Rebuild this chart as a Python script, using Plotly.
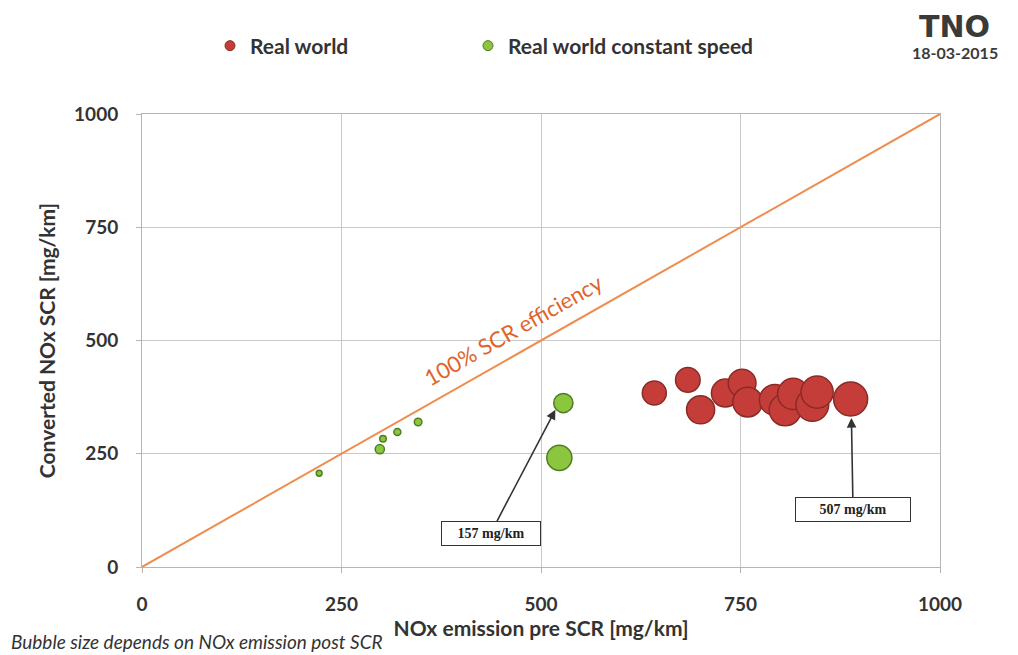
import plotly.graph_objects as go

# Real world (red) : NOx pre SCR vs converted NOx
rw_pre = [642, 684, 700, 731, 752, 759, 793, 806, 816, 840, 846, 888]
rw_conv = [384, 413, 347, 384, 406, 364, 369, 347, 382, 358, 386, 371]

# Real world constant speed (green)
cs_pre = [222, 298, 302, 320, 346, 528, 523]
cs_conv = [207, 260, 283, 298, 320, 362, 241]

diag = [0, 1000]
ticks = [0, 250, 500, 750, 1000]

# bubble size = NOx emission post SCR = pre - converted
rw_post = [p - c for p, c in zip(rw_pre, rw_conv)]
cs_post = [p - c for p, c in zip(cs_pre, cs_conv)]

max_d = 34
sizeref = 2 * max(rw_post + cs_post) / max_d ** 2

FONT = "Lato"
DARK = "#333333"
RED, RED_LINE = "#c53d39", "#8a2b27"
GREEN, GREEN_LINE = "#8cc63e", "#4f7d22"

fig = go.Figure()
fig.add_trace(go.Scatter(x=diag, y=diag, mode="lines",
                         line=dict(color="#ef8c4f", width=2),
                         showlegend=False, hoverinfo="skip"))
fig.add_trace(go.Scatter(x=rw_pre, y=rw_conv, mode="markers", name="Real world",
                         showlegend=False,
                         marker=dict(size=rw_post, sizemode="area", sizeref=sizeref,
                                     color=RED, opacity=1,
                                     line=dict(color=RED_LINE, width=1.5))))
fig.add_trace(go.Scatter(x=cs_pre, y=cs_conv, mode="markers", name="Real world constant speed",
                         showlegend=False,
                         marker=dict(size=cs_post, sizemode="area", sizeref=sizeref,
                                     color=GREEN, opacity=1,
                                     line=dict(color=GREEN_LINE, width=1.5))))
# legend entries (one legend each, so they can be placed like the original)
fig.add_trace(go.Scatter(x=[None], y=[None], mode="markers", name="Real world", legend="legend",
                         marker=dict(size=10, color=RED, line=dict(color=RED_LINE, width=1))))
fig.add_trace(go.Scatter(x=[None], y=[None], mode="markers", name="Real world constant speed",
                         legend="legend2",
                         marker=dict(size=10, color=GREEN, line=dict(color=GREEN_LINE, width=1))))

axis_common = dict(range=[0, 1000], tickvals=ticks, showgrid=True, gridcolor="#c9c9c9",
                   gridwidth=1, zeroline=False, showline=True, linecolor="#b5b5b5",
                   linewidth=1, mirror=True, ticks="outside", ticklen=5, tickcolor="#b5b5b5",
                   automargin=False,
                   tickfont=dict(family=FONT, size=19, color=DARK, weight="bold"))

fig.update_xaxes(**axis_common, ticklabelstandoff=15,
                 title=dict(text="NOx emission pre SCR [mg/km]", standoff=6,
                            font=dict(family=FONT, size=21, color=DARK, weight="bold")))
fig.update_yaxes(**axis_common, ticklabelstandoff=14,
                 title=dict(text="Converted NOx SCR [mg/km]", standoff=12,
                            font=dict(family=FONT, size=21, color=DARK, weight="bold")))

# page offset (browser body margin)
OFF = 8
W, H = 1018, 655
L, T = 142 - OFF, 114 - OFF
pw, ph = 798, 453
R, B = W - L - pw, H - T - ph


def px(x):
    return (x - OFF - L) / pw


def py(y):
    return (H - B - (y - OFF)) / ph


annotations = [
    dict(x=466, y=524, xref="x", yref="y", text="100% SCR efficiency", showarrow=False,
         textangle=-29.6, font=dict(family=FONT, size=22, color="#e0642a")),
    dict(x=518, y=347, xref="x", yref="y", ax=437, ay=75, axref="x", ayref="y",
         text="<b>157 mg/km</b>", showarrow=True, arrowhead=2, arrowsize=1.2, arrowwidth=1.6,
         arrowcolor="#333333", bordercolor="#333333", borderwidth=1, borderpad=4,
         bgcolor="white", font=dict(family="Liberation Serif", size=14, color="#222222"),
         width=90),
    dict(x=889, y=329, xref="x", yref="y", ax=891, ay=128, axref="x", ayref="y",
         text="<b>507 mg/km</b>", showarrow=True, arrowhead=2, arrowsize=1.2, arrowwidth=1.6,
         arrowcolor="#333333", bordercolor="#333333", borderwidth=1, borderpad=4,
         bgcolor="white", font=dict(family="Liberation Serif", size=14, color="#222222"),
         width=106),
    dict(x=px(9), y=py(641), xref="paper", yref="paper",
         text="<i>Bubble size depends on NOx emission post SCR</i>",
         showarrow=False, xanchor="left", yanchor="middle",
         font=dict(family=FONT, size=19, color=DARK)),
    dict(x=px(954), y=py(27), xref="paper", yref="paper", text="<b>TNO</b>",
         showarrow=False, xanchor="center", yanchor="middle",
         font=dict(family="DejaVu Sans", size=30, color="#3a3a3a")),
    dict(x=px(955), y=py(53), xref="paper", yref="paper", text="<b>18-03-2015</b>",
         showarrow=False, xanchor="center", yanchor="middle",
         font=dict(family=FONT, size=16, color="#3a3a3a")),
]

leg_common = dict(orientation="h", xanchor="left", yanchor="middle",
                  font=dict(family=FONT, size=21, color=DARK, weight="bold"),
                  bgcolor="rgba(0,0,0,0)")

fig.update_layout(
    width=W, height=H,
    margin=dict(l=L, r=R, t=T, b=B, autoexpand=False),
    paper_bgcolor="white", plot_bgcolor="white",
    annotations=annotations,
    legend=dict(**leg_common, x=px(210), y=py(46)),
    legend2=dict(**leg_common, x=px(468), y=py(46)),
    showlegend=True,
)

fig.write_html("out.html")
